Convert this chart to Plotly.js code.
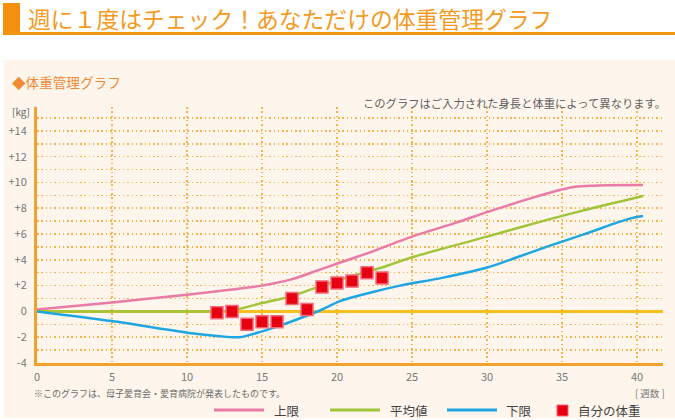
<!DOCTYPE html>
<html>
<head>
<meta charset="utf-8">
<script src="https://cdn.plot.ly/plotly-3.0.1.min.js"></script>
<style>
html,body{margin:0;padding:0;background:#fff;}
#chart{width:675px;height:420px;}
</style>
</head>
<body>
<div id="chart"></div>
<script>
// ---- data ----
const seriesNames = ['上限', '平均値', '下限', '自分の体重'];

const upperWeeks = [0, 5, 10, 13, 15, 17, 19, 21, 22, 25, 28, 30, 33, 35, 36, 37, 38, 40.4];
const upperKg    = [0.15, 0.7, 1.3, 1.7, 2.0, 2.5, 3.3, 4.1, 4.5, 5.8, 6.9, 7.7, 8.8, 9.45, 9.68, 9.75, 9.78, 9.8];

const meanWeeks = [0, 5, 10, 12.5, 13.5, 15, 17, 19, 21, 23, 25, 30, 34, 37, 40.4];
const meanKg    = [0.0, 0.0, 0.0, 0.02, 0.2, 0.65, 1.2, 2.0, 2.75, 3.4, 4.2, 5.8, 7.1, 8.0, 8.95];

const lowerWeeks = [0, 5, 10, 12, 13.5, 15, 16.2, 17.5, 19, 20.2, 22.2, 24.2, 27, 30, 32, 34.2, 36.4, 38.7, 39.7, 40.4];
const lowerKg    = [0.0, -0.75, -1.65, -1.9, -2.0, -1.55, -1.1, -0.55, 0.15, 0.8, 1.45, 2.0, 2.6, 3.4, 4.2, 5.1, 5.95, 6.9, 7.25, 7.4];

const ownWeeks = [12, 13, 14, 15, 16, 17, 18, 19, 20, 21, 22, 23];
const ownKg    = [-0.1, 0.0, -1.0, -0.8, -0.8, 1.0, 0.15, 1.9, 2.2, 2.35, 3.0, 2.6];

const xTickVals = [0, 5, 10, 15, 20, 25, 30, 35, 40];
const yTickVals = [-4, -3, -2, -1, 0, 1, 2, 3, 4, 5, 6, 7, 8, 9, 10, 11, 12, 13, 14, 15];
const yTickText = ['-4', '', '-2', '', '0', '', '+2', '', '+4', '', '+6', '', '+8', '', '+10', '', '+12', '', '+14', ''];

const pageTitle = '週に１度はチェック！あなただけの体重管理グラフ';
const sectionTitle = '◆体重管理グラフ';
const noteRight = 'このグラフはご入力された身長と体重によって異なります。';
const noteBottom = '※このグラフは、母子愛育会・愛育病院が発表したものです。';
const yUnit = '[kg]';
const xUnit = '[ 週数 ]';

// ---- style ----
const colors = ['#ea7aa6', '#a0c43a', '#1ea6e2', '#e60012'];
const FONT = '"Noto Sans CJK JP", "Noto Sans", sans-serif';
const L = 37, R = 663, T = 107, B = 363, W = 675, H = 420;
const px = x => (x - L) / (R - L);
const py = y => (B - y) / (B - T);

const traces = [
  {x: upperWeeks, y: upperKg, name: seriesNames[0], mode: 'lines',
   line: {color: colors[0], width: 2.5, shape: 'spline', smoothing: 0.8}},
  {x: meanWeeks, y: meanKg, name: seriesNames[1], mode: 'lines',
   line: {color: colors[1], width: 2.5, shape: 'spline', smoothing: 0.8}},
  {x: lowerWeeks, y: lowerKg, name: seriesNames[2], mode: 'lines',
   line: {color: colors[2], width: 2.5, shape: 'spline', smoothing: 0.8}},
  {x: ownWeeks, y: ownKg, name: seriesNames[3], mode: 'markers',
   marker: {symbol: 'square', size: 12, color: colors[3], line: {color: '#f86878', width: 1.5}}}
];

const shapes = [
  // cream panel
  {type: 'rect', xref: 'paper', yref: 'paper', layer: 'below',
   x0: px(4), x1: px(675), y0: py(60), y1: py(418), fillcolor: '#fef6ec', line: {width: 0}},
  // title block and underline
  {type: 'rect', xref: 'paper', yref: 'paper',
   x0: px(3), x1: px(20), y0: py(3), y1: py(33), fillcolor: '#f4900e', line: {width: 0}},
  {type: 'rect', xref: 'paper', yref: 'paper',
   x0: px(3), x1: px(675), y0: py(32), y1: py(35), fillcolor: '#f39410', line: {width: 0}}
];

const annotations = [
  {text: pageTitle, x: px(26), y: py(18), xanchor: 'left', yanchor: 'middle',
   font: {family: FONT, size: 22.8, color: '#f39a22'}},
  {text: sectionTitle, x: px(10), y: py(82), xanchor: 'left', yanchor: 'middle',
   font: {family: FONT, size: 13.6, color: '#ef8a35'}},
  {text: noteRight, x: px(668), y: py(103), xanchor: 'right', yanchor: 'middle',
   font: {family: FONT, size: 11.3, color: '#5e5e5e'}},
  {text: yUnit, x: px(10), y: py(111), xanchor: 'left', yanchor: 'middle',
   font: {family: FONT, size: 10, color: '#666'}},
  {text: noteBottom, x: px(32), y: py(393), xanchor: 'left', yanchor: 'middle',
   font: {family: FONT, size: 9, color: '#6a6a6a'}},
  {text: xUnit, x: px(667), y: py(393), xanchor: 'right', yanchor: 'middle',
   font: {family: FONT, size: 9.5, color: '#777'}}
];

// legend drawn with shapes + text
const legendLines = [[214, 264, 272], [330, 380, 388], [447, 497, 504]];
legendLines.forEach((p, i) => {
  shapes.push({type: 'line', xref: 'paper', yref: 'paper', x0: px(p[0]), x1: px(p[1]),
    y0: py(410), y1: py(410), line: {color: colors[i], width: 3}});
  annotations.push({text: seriesNames[i], x: px(p[2]), y: py(410), xanchor: 'left', yanchor: 'middle',
    font: {family: FONT, size: 12.5, color: '#444'}});
});
shapes.push({type: 'rect', xref: 'paper', yref: 'paper', x0: px(557), x1: px(568),
  y0: py(416), y1: py(405), fillcolor: colors[3], line: {color: '#f86878', width: 1}});
annotations.push({text: seriesNames[3], x: px(576), y: py(410), xanchor: 'left', yanchor: 'middle',
  font: {family: FONT, size: 12.5, color: '#444'}});

annotations.forEach(a => { a.xref = 'paper'; a.yref = 'paper'; a.showarrow = false; });

const gridStyle = {showgrid: true, gridcolor: '#f6b54c', gridwidth: 1.5, griddash: '1.5px,2.8px'};

const layout = {
  width: W, height: H,
  margin: {l: L, r: W - R, t: T, b: H - B, pad: 0},
  paper_bgcolor: '#ffffff',
  plot_bgcolor: '#fef6ec',
  showlegend: false,
  xaxis: Object.assign({
    range: [0, 41.73], tickvals: xTickVals, ticktext: xTickVals.map(String),
    showline: true, linecolor: '#f0a22c', linewidth: 3, zeroline: false,
    ticks: '', ticklabelstandoff: 2,
    tickfont: {family: FONT, size: 11, color: '#777'}, fixedrange: true
  }, gridStyle),
  yaxis: Object.assign({
    range: [-4, 15.85], tickvals: yTickVals, ticktext: yTickText,
    showline: true, linecolor: '#f0a22c', linewidth: 3,
    zeroline: true, zerolinecolor: '#f5c11c', zerolinewidth: 3,
    ticks: '', ticklabelstandoff: 5,
    tickfont: {family: FONT, size: 11, color: '#777'}, fixedrange: true
  }, gridStyle),
  shapes: shapes,
  annotations: annotations
};

Plotly.newPlot('chart', traces, layout, {displayModeBar: false, staticPlot: true});
</script>
</body>
</html>
